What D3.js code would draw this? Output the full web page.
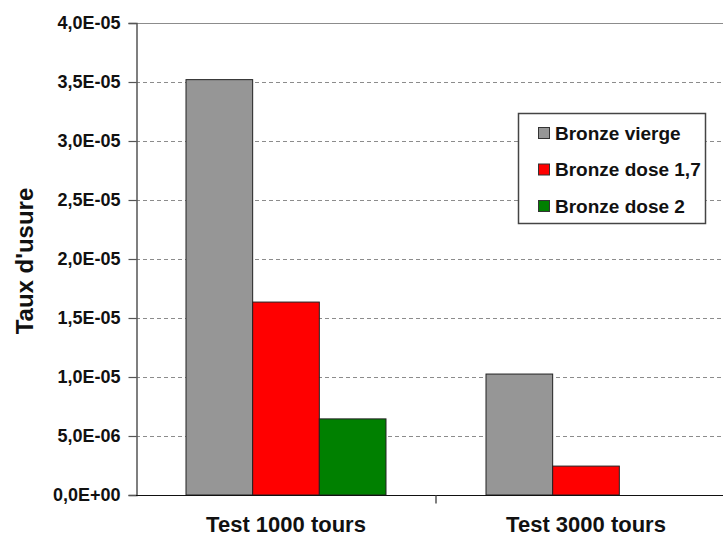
<!DOCTYPE html>
<html><head><meta charset="utf-8">
<script src="https://cdn.jsdelivr.net/npm/d3@7"></script>
<style>body{margin:0;background:#fff;}svg{display:block;font-family:"Liberation Sans",Arial,sans-serif;}</style>
</head><body><svg id="c" width="723" height="537"></svg>
<script>
const categories = ["Test 1000 tours", "Test 3000 tours"];
const seriesNames = ["Bronze vierge", "Bronze dose 1,7", "Bronze dose 2"];
const seriesColors = ["#969696", "#ff0000", "#008000"];
const vierge = [3.52e-5, 1.025e-5];
const dose17 = [1.635e-5, 2.45e-6];
const dose2 = [6.45e-6, null];
const yTicks = [0, 5e-6, 1e-5, 1.5e-5, 2e-5, 2.5e-5, 3e-5, 3.5e-5, 4e-5];
const yTickLabels = ["0,0E+00","5,0E-06","1,0E-05","1,5E-05","2,0E-05","2,5E-05","3,0E-05","3,5E-05","4,0E-05"];

(function () {
const series = [vierge, dose17, dose2];
const svg = d3.select("#c");
const pL = 136, pR = 736, pT = 23, pB = 495;

const x = d3.scaleBand().domain(categories).range([pL, pR]).paddingInner(1/3).paddingOuter(1/6);
const xs = d3.scaleBand().domain(seriesNames).range([0, x.bandwidth()]);
const y = d3.scaleLinear().domain([0, 4e-5]).range([pB, pT]);

// grid
svg.append("g").selectAll("line").data(yTicks.slice(1, -1)).join("line")
  .attr("x1", pL).attr("x2", pR)
  .attr("y1", d => Math.round(y(d)) + 0.5).attr("y2", d => Math.round(y(d)) + 0.5)
  .attr("stroke", "#8c8c8c").attr("stroke-width", 1).attr("stroke-dasharray", "4,3");
svg.append("line").attr("x1", pL).attr("x2", pR).attr("y1", pT + 0.5).attr("y2", pT + 0.5)
  .attr("stroke", "#8c8c8c").attr("stroke-width", 1.2);

// bars
const barData = [];
categories.forEach((c, i) => series.forEach((s, j) => { if (s[i] != null) barData.push({c, j, v: s[i]}); }));
svg.append("g").selectAll("rect").data(barData).join("rect")
  .attr("x", d => x(d.c) + xs(seriesNames[d.j]))
  .attr("y", d => y(d.v))
  .attr("width", xs.bandwidth())
  .attr("height", d => y(0) - y(d.v))
  .attr("fill", d => seriesColors[d.j])
  .attr("stroke", "#222").attr("stroke-width", 1);

// y axis
const yAxis = d3.axisLeft(y).tickValues(yTicks).tickFormat((d, i) => yTickLabels[i]).tickSize(8).tickPadding(8);
const gy = svg.append("g").attr("transform", `translate(${pL + 0.5},0)`).call(yAxis);
gy.select(".domain").attr("stroke", "#555").attr("stroke-width", 1.5);
gy.selectAll(".tick line").attr("stroke", "#555").attr("stroke-width", 1.2);
gy.selectAll("text").attr("font-size", 18).attr("font-weight", "bold").attr("fill", "#111")
  .attr("font-family", "Liberation Sans, Arial, sans-serif");

// x axis
const xb = d3.scaleLinear().domain([0, 2]).range([pL, pR]);
const gx = svg.append("g").attr("transform", `translate(0,${pB + 0.5})`);
gx.append("line").attr("x1", pL).attr("x2", pR).attr("stroke", "#111").attr("stroke-width", 1.2);
gx.append("line").attr("x1", xb(1)).attr("x2", xb(1)).attr("y1", 0).attr("y2", 8).attr("stroke", "#555").attr("stroke-width", 1.5);
gx.selectAll("text").data(categories).join("text")
  .attr("x", d => x(d) + x.bandwidth() / 2).attr("y", 36.5)
  .attr("text-anchor", "middle").attr("font-size", 22).attr("font-weight", "bold").attr("fill", "#111")
  .text(d => d);

// y title
svg.append("text").attr("transform", `translate(33,261) rotate(-90)`)
  .attr("text-anchor", "middle").attr("font-size", 24).attr("font-weight", "bold").attr("fill", "#111")
  .text("Taux d'usure");

// legend
const lg = svg.append("g").attr("transform", "translate(518,113)");
lg.append("rect").attr("x", 0.5).attr("y", 0.5).attr("width", 187).attr("height", 110)
  .attr("fill", "#fff").attr("stroke", "#444").attr("stroke-width", 1.5);
const li = lg.selectAll("g.it").data(seriesNames).join("g").attr("class", "it")
  .attr("transform", (d, i) => `translate(20,${20 + i * 36.5})`);
li.append("rect").attr("x", 0.5).attr("y", -5.5).attr("width", 11).attr("height", 11)
  .attr("fill", (d, i) => seriesColors[i]).attr("stroke", "#333").attr("stroke-width", 1);
li.append("text").attr("x", 17).attr("y", 6.5).attr("font-size", 19).attr("font-weight", "bold").attr("fill", "#111")
  .text(d => d);
})();
</script></body></html>
